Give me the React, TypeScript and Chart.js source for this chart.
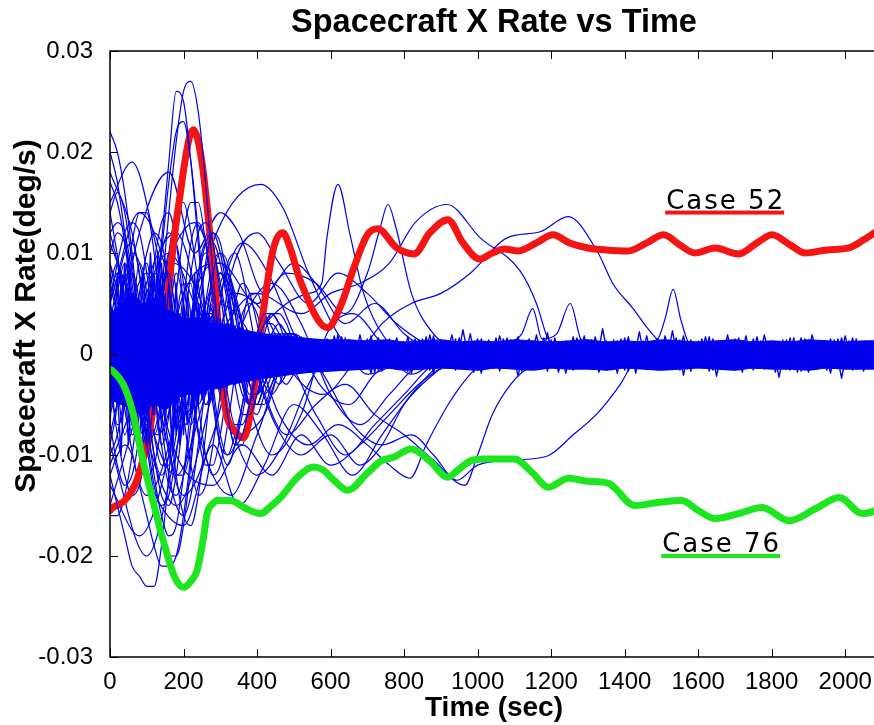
import { useEffect, useRef } from "react";
import { Chart, registerables } from "chart.js";

Chart.register(...registerables);

// ---------- text ----------
const TITLE = "Spacecraft X Rate vs Time";
const X_LABEL = "Time (sec)";
const Y_LABEL = "Spacecraft X Rate(deg/s)";

// ---------- axes ----------
const X_MIN = 0;
const X_MAX = 2100;
const X_TICKS = [0, 200, 400, 600, 800, 1000, 1200, 1400, 1600, 1800, 2000];
const X_TICK_LABELS = ["0", "200", "400", "600", "800", "1000", "1200", "1400", "1600", "1800", "2000"];
const Y_MIN = -0.03;
const Y_MAX = 0.03;
const Y_TICKS = [-0.03, -0.02, -0.01, 0, 0.01, 0.02, 0.03];
const Y_TICK_LABELS = ["-0.03", "-0.02", "-0.01", "0", "0.01", "0.02", "0.03"];

// all rate values below are in units of 0.001 deg/s
const MILLI = 0.001;

// ---------- highlighted cases: [time (s), rate (1e-3 deg/s)] ----------
const CASE_52: number[][] = [
  [0, -15.5], [8, -15.2], [40, -14.5], [73, -12.5], [109, -7.3], [145, 2], [183, 13.8], [227, 22.2],
  [250, 19], [273, 11.4], [292, 3.9], [308, -4], [346, -7.9], [363, -8.3], [390, -4], [418, 4.5],
  [445, 10.5], [470, 12], [490, 10.5], [518, 7.2], [592, 2.6], [630, 5], [663, 8.5], [700, 11.8],
  [728, 12.4], [780, 10.5], [827, 9.9], [870, 12], [919, 13.3], [960, 11], [1005, 9.4], [1040, 10],
  [1073, 10.4], [1110, 10.2], [1160, 11], [1205, 11.8], [1250, 11], [1300, 10.5], [1350, 10.3],
  [1410, 10.2], [1460, 11], [1506, 11.8], [1550, 10.8], [1591, 10], [1646, 10.5], [1710, 9.9],
  [1760, 11], [1801, 11.8], [1850, 10.8], [1891, 10], [1950, 10.3], [2010, 10.5], [2050, 11.3], [2100, 12.5],
];
const CASE_76: number[][] = [
  [0, -1.5], [8, -1.7], [36, -3], [60, -5.5], [90, -10.6], [120, -15], [145, -18.5], [175, -22],
  [200, -23.1], [220, -22.5], [237, -21.4], [255, -18], [264, -15.8], [280, -14.8], [292, -14.5],
  [327, -14.5], [370, -15.3], [409, -15.8], [440, -15], [464, -14.2], [510, -12.2], [554, -11.2],
  [580, -11.5], [609, -12.5], [646, -13.5], [700, -11.8], [737, -10.6], [773, -10.2], [819, -9.4],
  [870, -10.6], [919, -12.2], [946, -11.5], [980, -10.6], [1018, -10.4], [1100, -10.4], [1150, -11.8],
  [1192, -13.2], [1247, -12.3], [1300, -12.6], [1356, -12.8], [1427, -15], [1490, -14.7], [1555, -14.5],
  [1600, -15.5], [1646, -16.3], [1710, -15.8], [1774, -15.2], [1847, -16.5], [1920, -15.3], [1984, -14.2],
  [2046, -15.8], [2100, -15.3],
];

// ---------- labels for the highlighted cases (anchored in data units) ----------
const CASE_LABELS = [
  { text: "Case 52", t: 1513, v: 14.4, color: "#f51414" },
  { text: "Case 76", t: 1502, v: -19.6, color: "#1ee61e" },
];

// ---------- envelope of the densely overlapping cases (core of the bundle) ----------
const BAND_T = [0, 30, 60, 90, 120, 150, 180, 210, 240, 270, 300, 330, 360, 390, 420, 460, 500, 550, 600, 650, 700, 750, 800, 850, 900, 950, 1000, 1050, 1100, 1150, 1200, 1250, 1300, 1350, 1400, 1450, 1500, 1550, 1600, 1650, 1700, 1750, 1800, 1850, 1900, 1950, 2000, 2050, 2100];
const BAND_UPPER = [4, 5, 6, 5, 5.5, 4.5, 4, 3.5, 3.6, 3, 3, 2.6, 2.4, 2.2, 2, 1.8, 1.7, 1.5, 1.4, 1.4, 1.3, 1.4, 1.2, 1.3, 1.4, 1.2, 1.3, 1.2, 1.4, 1.3, 1.2, 1.3, 1.4, 1.2, 1.3, 1.2, 1.4, 1.3, 1.2, 1.3, 1.4, 1.2, 1.3, 1.2, 1.4, 1.3, 1.2, 1.3, 1.3];
const BAND_LOWER = [-4.5, -5, -5.5, -6, -5, -5.5, -4.5, -4, -4, -3.5, -3.4, -3, -2.8, -2.6, -2.4, -2.2, -2, -1.8, -1.7, -1.6, -1.5, -1.4, -1.6, -1.5, -1.4, -1.5, -1.6, -1.4, -1.5, -1.6, -1.4, -1.5, -1.5, -1.6, -1.4, -1.5, -1.6, -1.5, -1.4, -1.5, -1.6, -1.4, -1.5, -1.5, -1.6, -1.4, -1.5, -1.5, -1.5];

// ---------- other Monte-Carlo cases, early transient (t = 0..600 s, every 20 s) ----------
const T_EARLY = [0, 20, 40, 60, 80, 100, 120, 140, 160, 180, 200, 220, 240, 260, 280, 300, 320, 340, 360, 380, 400, 420, 440, 460, 480, 500, 520, 540, 560, 580, 600];
const EARLY_01 = [5, 2, -2, -6, -8, -6, -1, 6, 14, 21, 26, 27, 24, 17, 8, 0, -6, -9, -8, -5, -1, 2, 4, 4, 3, 1, 0, -1, -1, 0, 0];
const EARLY_02 = [12, 9, 4, -1, -4, -3, 3, 11, 19, 26, 25, 19, 11, 3, -4, -9, -11, -9, -5, -1, 2, 4, 4, 3, 1, 0, -1, -1, 0, 0, 0];
const EARLY_03 = [22, 20, 16, 10, 3, -4, -10, -14, -15, -12, -6, 1, 7, 11, 12, 10, 6, 1, -3, -5, -5, -3, -1, 1, 2, 2, 1, 0, 0, 0, 0];
const EARLY_04 = [20, 17, 12, 6, 1, 0, 4, 10, 17, 22, 23, 19, 12, 4, -3, -8, -10, -9, -6, -2, 1, 3, 4, 3, 2, 0, -1, -1, 0, 0, 0];
const EARLY_05 = [-12, -15, -18, -21, -22, -23, -23, -19, -12, -3, 5, 11, 13, 11, 6, 1, -4, -7, -7, -5, -2, 1, 2, 2, 1, 0, 0, -1, 0, 0, 0];
const EARLY_06 = [6, 8, 7, 3, -3, -9, -14, -18, -20, -20, -17, -11, -4, 3, 8, 10, 9, 5, 1, -3, -5, -5, -3, -1, 1, 2, 1, 0, 0, 0, 0];
const EARLY_07 = [14, 16, 14, 9, 2, -6, -12, -16, -18, -17, -12, -5, 3, 9, 12, 11, 7, 2, -2, -4, -4, -2, 0, 1, 2, 1, 0, 0, 0, 0, 0];
const EARLY_08 = [-5, 0, 6, 11, 14, 14, 10, 3, -5, -12, -16, -17, -14, -8, -1, 5, 9, 10, 8, 4, 0, -3, -4, -3, -1, 1, 1, 0, 0, 0, 0];
const EARLY_09 = [10, 12, 11, 7, 1, -5, -10, -12, -10, -5, 2, 8, 12, 13, 11, 6, 1, -3, -6, -6, -4, -1, 1, 2, 2, 1, 0, 0, 0, 0, 0];
const EARLY_10 = [-10, -8, -4, 1, 6, 10, 12, 11, 7, 1, -6, -11, -14, -13, -9, -4, 1, 5, 7, 6, 3, 0, -2, -3, -2, -1, 0, 1, 0, 0, 0];
const EARLY_11 = [3, 7, 10, 11, 8, 3, -3, -9, -13, -14, -12, -7, -1, 5, 9, 10, 8, 4, 0, -3, -4, -3, -1, 1, 1, 1, 0, 0, 0, 0, 0];
const EARLY_12 = [-16, -16, -14, -10, -4, 3, 9, 13, 14, 11, 5, -2, -8, -11, -11, -8, -3, 1, 4, 5, 4, 1, -1, -2, -2, -1, 0, 0, 0, 0, 0];
const EARLY_13 = [8, 4, -1, -6, -10, -12, -11, -7, -1, 6, 12, 15, 15, 11, 5, -1, -6, -9, -9, -6, -3, 0, 2, 3, 2, 1, 0, 0, 0, 0, 0];
const EARLY_14 = [-3, -8, -12, -14, -13, -9, -3, 4, 10, 14, 15, 12, 7, 1, -5, -9, -10, -8, -5, -1, 2, 3, 3, 2, 0, -1, -1, 0, 0, 0, 0];
const EARLY_15 = [17, 15, 11, 5, -2, -8, -13, -15, -14, -10, -4, 2, 8, 11, 11, 9, 5, 1, -3, -5, -5, -3, -1, 1, 2, 1, 0, 0, 0, 0, 0];
const EARLY_16 = [-12, -10, -9, -10, -13, -16, -19, -21, -21, -20, -16, -10, -3, 3, 7, 8, 6, 2, -2, -5, -6, -4, -2, 0, 2, 2, 1, 0, 0, 0, 0];
const EARLY_17 = [0, 4, 8, 10, 9, 5, -1, -7, -12, -15, -16, -14, -9, -3, 3, 7, 8, 6, 3, -1, -3, -4, -3, -1, 0, 1, 1, 0, 0, 0, 0];
const EARLY_18 = [5, 9, 12, 13, 12, 8, 2, -4, -9, -12, -12, -9, -4, 2, 6, 8, 7, 4, 0, -3, -4, -3, -1, 1, 1, 1, 0, 0, 0, 0, 0];
const EARLY_19 = [-7, -11, -13, -12, -8, -2, 5, 10, 12, 11, 7, 1, -5, -10, -12, -11, -7, -2, 3, 6, 6, 4, 1, -2, -3, -2, -1, 0, 0, 0, 0];
const EARLY_20 = [12, 13, 12, 8, 3, -3, -8, -11, -11, -8, -3, 3, 8, 10, 10, 7, 3, -1, -4, -5, -4, -2, 0, 1, 1, 1, 0, 0, 0, 0, 0];
const EARLY_21 = [4, -3, -8, -4, 5, 9, 3, -6, -9, -2, 6, 7, 0, -5, -4, 1, 3, 1, -1, -2, -1, 0, 1, 0, 0, 0, 0, 0, 0, 0, 0];
const EARLY_22 = [-6, 2, 8, 5, -4, -9, -4, 5, 8, 3, -5, -6, -1, 4, 4, 0, -2, -2, 0, 1, 1, 0, 0, 0, 0, 0, 0, 0, 0, 0, 0];
const EARLY_23 = [9, 6, -2, -8, -6, 2, 8, 6, -2, -7, -5, 2, 5, 3, -1, -3, -2, 0, 2, 1, 0, -1, 0, 0, 0, 0, 0, 0, 0, 0, 0];
const EARLY_24 = [-2, -7, -5, 3, 9, 6, -3, -9, -6, 3, 7, 4, -2, -5, -3, 1, 3, 2, -1, -2, -1, 0, 1, 0, 0, 0, 0, 0, 0, 0, 0];
const EARLY_25 = [1, 6, 9, 4, -5, -10, -6, 4, 10, 6, -3, -7, -4, 2, 5, 3, -1, -3, -2, 0, 1, 1, 0, 0, 0, 0, 0, 0, 0, 0, 0];
const EARLY_26 = [-9, -5, 3, 8, 5, -3, -8, -5, 3, 8, 5, -2, -5, -3, 1, 3, 2, -1, -2, -1, 0, 1, 0, 0, 0, 0, 0, 0, 0, 0, 0];
const EARLY_27 = [7, 9, 4, -4, -9, -6, 2, 8, 7, -1, -7, -6, 0, 5, 4, 0, -3, -2, 0, 1, 1, 0, 0, 0, 0, 0, 0, 0, 0, 0, 0];
const EARLY_28 = [-4, 3, 7, 3, -5, -7, -1, 6, 7, 1, -5, -5, 0, 4, 3, -1, -3, -1, 1, 1, 0, 0, 0, 0, 0, 0, 0, 0, 0, 0, 0];

// ---------- other cases with slower, longer-lasting oscillation: [time, rate] ----------
const BLUE_LONG_1: number[][] = [[0, 9], [60, -2], [130, -8], [200, 0], [290, 12], [410, 16.8], [470, 14.5], [540, 8], [620, 2], [700, -1], [780, 1], [850, 0], [950, 0]];
const BLUE_LONG_2: number[][] = [[0, -6], [80, 4], [160, 10], [240, 4], [320, -3], [400, 2], [480, 5], [540, 6], [576, 7], [590, 11.5], [620, 16.8], [653, 11.8], [690, 6], [760, 1], [840, -1], [920, 0]];
const BLUE_LONG_3: number[][] = [[0, 4], [100, -9], [200, 6], [300, 9], [400, 5], [480, 8], [560, 7], [640, 4], [700, 8], [735, 12.5], [756, 14.8], [778, 12.5], [820, 6], [880, 2], [960, 0]];
const BLUE_LONG_4: number[][] = [[0, -4], [100, 8], [200, -6], [300, 2], [400, 6], [520, 4], [600, 6], [680, 7], [760, 9], [830, 13], [917, 14.8], [1007, 11.5], [1116, 8.2], [1161, 4.9], [1190, 1.6], [1230, 0]];
const BLUE_LONG_5: number[][] = [[0, 14], [90, -4], [180, -12], [260, -4], [340, 6], [420, 4], [500, -2], [580, -4], [660, -1], [740, 3], [820, 5], [900, 6], [980, 8], [1080, 11.5], [1170, 12.1], [1246, 13.6], [1325, 10.2], [1369, 6.9], [1423, 4.5], [1461, 2.6], [1500, 1], [1540, 0]];
const BLUE_SPIKE_1: number[][] = [[1400, 0], [1450, 1], [1490, 1.5], [1510, 3.5], [1532, 6.4], [1552, 3.5], [1575, 1], [1620, 0]];
const BLUE_SPIKE_2: number[][] = [[1000, 0], [1080, 1], [1120, 2], [1150, 4.5], [1175, 1.5], [1215, 2], [1252, 5], [1280, 1.5], [1330, 0]];
const BLUE_NEG_1: number[][] = [[0, -8], [90, 6], [180, 12], [260, 2], [340, -8], [420, -6], [500, 2], [580, -2], [660, -7], [740, -9], [820, -8], [880, -10], [944, -12.5], [1000, -11], [1100, -10.5], [1190, -10.1], [1260, -8], [1325, -5.9], [1388, -3], [1430, -0.5], [1470, 0]];
const BLUE_NEG_2: number[][] = [[0, 3], [100, -14], [200, -4], [300, 8], [400, -2], [480, -8], [560, -5], [640, -3], [720, -6], [800, -8], [880, -10.5], [965, -13], [1000, -10], [1040, -6], [1090, -3], [1150, -1], [1210, 0]];
const BLUE_NEG_3: number[][] = [[0, -9], [100, -20], [190, -8], [290, 5], [380, 2], [460, -6], [540, -9], [620, -7], [700, -9], [760, -11], [816, -12.3], [860, -9], [920, -5], [980, -2], [1040, 0]];
const BLUE_NEG_4: number[][] = [[0, 11], [100, 1], [180, -10], [280, -13], [360, -9], [440, -12], [520, -8], [600, -11], [680, -9], [760, -6], [840, -3], [920, -1], [1000, 0]];
const BLUE_MID_1: number[][] = [[0, -2], [80, 12], [160, 18], [230, 10], [300, 14], [350, 12], [420, 6], [500, 9], [560, 7], [640, 3], [720, 5], [800, 2], [880, 0]];
const BLUE_MID_2: number[][] = [[0, 7], [90, -7], [180, -15], [270, -5], [330, 8], [400, 12], [460, 9], [540, 5], [620, 8], [700, 6], [780, 3], [860, 1], [940, 0]];
const BLUE_MID_3: number[][] = [[0, -13], [80, -18], [160, -10], [240, 7], [300, 9], [380, 0], [450, -7], [520, -10], [600, -8], [680, -11], [740, -9], [800, -5], [880, -2], [960, 0]];
const BLUE_MID_4: number[][] = [[0, 15], [60, 19], [130, 10], [210, -2], [280, 4], [360, 11], [430, 8], [500, 2], [570, -3], [650, -5], [720, -2], [800, 0]];
const BLUE_MID_5: number[][] = [[0, -15], [70, -6], [150, 8], [230, 13], [300, 6], [370, -4], [440, -10], [520, -6], [590, 2], [660, 4], [740, 1], [820, -2], [900, 0]];
const BLUE_MID_6: number[][] = [[0, 5], [80, 14], [170, 6], [250, -9], [330, -14], [400, -8], [480, -1], [560, -6], [640, -10], [720, -7], [800, -4], [880, -1], [960, 0]];
const BLUE_MID_7: number[][] = [[0, -11], [90, -2], [170, 9], [250, 5], [320, -6], [400, -12], [470, -9], [540, -3], [620, 1], [700, -2], [780, -1], [860, 0]];
const BLUE_MID_8: number[][] = [[0, 18], [60, 12], [130, -4], [200, -14], [280, -8], [360, 3], [440, 7], [520, 3], [600, -4], [680, -7], [760, -4], [840, -1], [920, 0]];
const BLUE_MID_9: number[][] = [[0, 2], [100, -12], [200, -17], [280, -9], [350, -15], [420, -11], [500, -5], [580, -8], [660, -12], [740, -8], [820, -4], [900, -1], [980, 0]];

// ---------- residual jitter of the settled cases ----------
const NOISE_T_A = [0, 20, 40, 60, 80, 100, 120, 140, 160, 180, 200, 220, 240, 260, 280, 300, 320, 340, 360, 380, 400, 420, 440, 460, 480, 500, 520, 540, 560, 580, 600, 620, 640, 660, 680, 700, 720, 740, 760, 780, 800, 820, 840, 860, 880, 900, 920, 940, 960, 980, 1000, 1020, 1040, 1060, 1080, 1100, 1120, 1140, 1160, 1180, 1200, 1220, 1240, 1260, 1280, 1300, 1320, 1340, 1360, 1380, 1400, 1420, 1440, 1460, 1480, 1500, 1520, 1540, 1560, 1580, 1600, 1620, 1640, 1660, 1680, 1700, 1720, 1740, 1760, 1780, 1800, 1820, 1840, 1860, 1880, 1900, 1920, 1940, 1960, 1980, 2000, 2020, 2040, 2060, 2080, 2100];
const NOISE_T_B = [10, 30, 50, 70, 90, 110, 130, 150, 170, 190, 210, 230, 250, 270, 290, 310, 330, 350, 370, 390, 410, 430, 450, 470, 490, 510, 530, 550, 570, 590, 610, 630, 650, 670, 690, 710, 730, 750, 770, 790, 810, 830, 850, 870, 890, 910, 930, 950, 970, 990, 1010, 1030, 1050, 1070, 1090, 1110, 1130, 1150, 1170, 1190, 1210, 1230, 1250, 1270, 1290, 1310, 1330, 1350, 1370, 1390, 1410, 1430, 1450, 1470, 1490, 1510, 1530, 1550, 1570, 1590, 1610, 1630, 1650, 1670, 1690, 1710, 1730, 1750, 1770, 1790, 1810, 1830, 1850, 1870, 1890, 1910, 1930, 1950, 1970, 1990, 2010, 2030, 2050, 2070, 2090];
const NOISE_1 = [
  6, -5, 9, -7, 4, -9, 8, -3, 7, -8,
  5, -6, 5, -4, 4.5, -3.5, 3, -3, 2.5, -2.5,
  2, -2.2, 1.8, -1.6, 1.4, -1.2, 1.7, -1.5, 1.1, -1.8,
  1.3, -1.0, 1.6, -1.4, 1.9, -1.2, 1.0, -1.7, 1.5, -1.3,
  1.2, -1.9, 1.4, -1.1, 1.8, -1.5, 1.3, -1.6, 2.4, -1.2,
  1.5, -1.4, 1.1, -1.7, 1.6, -1.3, 1.2, -1.5, 1.9, -1.1,
  1.4, -1.8, 1.3, -1.6, 1.5, -1.2, 1.7, -1.4, 1.0, -1.9,
  1.6, -1.3, 2.2, -1.5, 1.2, -1.6, 1.4, -1.1, 1.8, -1.7,
  1.3, -1.2, 1.5, -1.4, 1.9, -1.6, 1.1, -1.3, 1.7, -1.5,
  1.2, -2.3, 1.4, -1.2, 1.6, -1.8, 1.3, -1.1, 1.5, -1.4,
  1.8, -1.6, 1.2, -1.3, 1.5, -1.4,
];
const NOISE_2 = [
  -7, 8, -4, 6, -9, 5, -6, 9, -5, 7,
  -8, 4, -5, 4, -4, 3.5, -3, 2.8, -2.4, 2.2,
  -2, 1.9, -1.7, 1.3, -1.5, 1.8, -1.1, 1.4, -1.7, 1.2,
  -1.3, 1.9, -1.6, 1.1, -1.4, 1.5, -1.8, 1.2, -1.0, 1.6,
  -1.5, 1.3, -1.2, 1.7, -1.9, 1.4, -1.1, 1.5, -1.3, 2.0,
  -1.6, 1.2, -1.4, 1.8, -1.1, 1.3, -1.7, 1.5, -1.2, 1.6,
  -1.4, 1.1, -1.9, 1.7, -1.3, 1.4, -1.5, 2.5, -1.2, 1.3,
  -1.6, 1.1, -1.4, 1.8, -1.5, 1.2, -1.3, 1.6, -2.1, 1.4,
  -1.1, 1.7, -1.6, 1.3, -1.2, 1.5, -1.8, 1.2, -1.4, 1.9,
  -1.3, 1.1, -1.5, 1.6, -1.7, 1.4, -1.2, 1.3, -1.9, 1.5,
  -1.1, 1.6, -1.4, 1.2, -1.5, 1.3,
];
const NOISE_3 = [
  3, -10, 6, -6, 8, -4, 10, -7, 3, -9,
  6, -5, 4, -5, 3.5, -3, 3.2, -2.6, 2.4, -2.1,
  1.9, -1.8, 1.6, -1.4, 1.2, -1.7, 1.5, -1.1, 1.3, -1.6,
  1.8, -1.2, 1.4, -1.5, 1.1, -1.9, 1.6, -1.3, 1.2, -1.4,
  1.7, -1.0, 1.5, -1.6, 1.3, -1.2, 1.9, -1.4, 1.1, -1.8,
  1.5, -1.3, 1.6, -1.2, 1.4, -2.2, 1.3, -1.5, 1.1, -1.7,
  1.6, -1.4, 1.2, -1.3, 1.8, -1.5, 1.1, -1.6, 1.4, -1.2,
  1.7, -1.9, 1.3, -1.1, 1.5, -1.4, 2.3, -1.6, 1.2, -1.3,
  1.5, -1.7, 1.1, -1.5, 1.4, -1.2, 1.8, -1.6, 1.3, -1.4,
  1.2, -1.1, 1.6, -1.8, 1.5, -1.3, 1.1, -1.6, 1.4, -2.4,
  1.3, -1.5, 1.2, -1.4, 1.6,
];
const NOISE_4 = [
  -4, 7, -9, 3, -6, 10, -3, 6, -10, 4,
  -7, 8, -4.5, 3.8, -3.2, 3, -2.7, 2.3, -2.2, 2,
  -1.8, 1.7, -1.5, 1.1, -1.3, 1.6, -1.8, 1.2, -1.4, 1.5,
  -1.1, 1.7, -1.5, 1.3, -1.2, 1.8, -1.6, 1.4, -1.3, 1.1,
  -1.7, 1.5, -1.2, 1.9, -1.4, 1.3, -1.1, 1.6, -1.5, 1.2,
  -1.9, 1.4, -1.3, 1.5, -1.2, 1.7, -1.6, 1.1, -1.4, 2.1,
  -1.3, 1.2, -1.5, 1.6, -1.1, 1.4, -1.8, 1.3, -1.2, 1.5,
  -1.7, 1.2, -1.4, 1.1, -1.6, 1.8, -1.3, 1.4, -1.5, 1.2,
  -1.1, 1.7, -2.2, 1.3, -1.4, 1.6, -1.2, 1.5, -1.3, 1.1,
  -1.8, 1.4, -1.6, 1.2, -1.5, 1.9, -1.1, 1.3, -1.4, 1.6,
  -1.2, 1.5, -1.7, 1.3, -1.5,
];

// ---------- colours ----------
const BLUE = "#0000ee";
const RED = "#f51414";
const GREEN = "#1ee61e";

const FONT_TICK = '"Liberation Sans", Arial, Helvetica, sans-serif';
const FONT_BOLD = '"Liberation Sans", Arial, Helvetica, sans-serif';
const FONT_CASE = '"DejaVu Sans", Verdana, sans-serif';

const fromPairs = (p: number[][]) => p.map(([t, v]) => ({ x: t, y: v * MILLI }));
const fromGrid = (times: number[], vals: number[]) =>
  vals.slice(0, times.length).map((v, i) => ({ x: times[i], y: v * MILLI }));

const blueSmooth = (data: { x: number; y: number }[]) => ({
  data,
  borderColor: BLUE,
  borderWidth: 1.2,
  pointRadius: 0,
  cubicInterpolationMode: "monotone" as const,
});
const blueJag = (data: { x: number; y: number }[]) => ({
  data,
  borderColor: BLUE,
  borderWidth: 1.4,
  pointRadius: 0,
  tension: 0,
});

const TICK_LEN = 8;

const decorPlugin = {
  id: "decor",
  afterDatasetsDraw(chart: any) {
    const { ctx, chartArea: a, scales } = chart;
    const x = scales.x;
    const y = scales.y;
    ctx.save();
    ctx.strokeStyle = "#000";
    ctx.lineWidth = 1;
    ctx.beginPath();
    X_TICKS.forEach((v) => {
      const p = Math.round(x.getPixelForValue(v)) + 0.5;
      ctx.moveTo(p, a.bottom);
      ctx.lineTo(p, a.bottom - TICK_LEN);
      ctx.moveTo(p, a.top);
      ctx.lineTo(p, a.top + TICK_LEN);
    });
    Y_TICKS.forEach((v) => {
      const p = Math.round(y.getPixelForValue(v)) + 0.5;
      ctx.moveTo(a.left, p);
      ctx.lineTo(a.left + TICK_LEN, p);
      ctx.moveTo(a.right, p);
      ctx.lineTo(a.right - TICK_LEN, p);
    });
    ctx.stroke();
    ctx.lineWidth = 1.5;
    ctx.strokeRect(a.left, a.top, a.right - a.left, a.bottom - a.top);

    // case labels
    ctx.font = `26px ${FONT_CASE}`;
    ctx.textAlign = "left";
    ctx.textBaseline = "alphabetic";
    CASE_LABELS.forEach((c) => {
      const px = x.getPixelForValue(c.t);
      const py = y.getPixelForValue(c.v * MILLI);
      ctx.fillStyle = "#000";
      (ctx as any).letterSpacing = "2px";
      ctx.fillText(c.text, px, py);
      const w = ctx.measureText(c.text).width;
      (ctx as any).letterSpacing = "0px";
      ctx.fillStyle = c.color;
      ctx.fillRect(px - 1, py + 2, w, 4);
    });
    ctx.restore();
  },
  afterDraw(chart: any) {
    const { ctx } = chart;
    ctx.save();
    ctx.fillStyle = "#000";
    ctx.textAlign = "center";
    ctx.textBaseline = "alphabetic";
    ctx.font = `bold 32.5px ${FONT_BOLD}`;
    ctx.fillText(TITLE, 494, 32);
    ctx.font = `bold 28px ${FONT_BOLD}`;
    ctx.fillText(X_LABEL, 494, 716);
    ctx.font = `bold 30px ${FONT_BOLD}`;
    ctx.translate(35, 316);
    ctx.rotate(-Math.PI / 2);
    ctx.fillText(Y_LABEL, 0, 0);
    ctx.restore();
  },
};

export default function App() {
  const ref = useRef<HTMLCanvasElement>(null);

  useEffect(() => {
    if (!ref.current) return;
    const early = [
      EARLY_01, EARLY_02, EARLY_03, EARLY_04, EARLY_05, EARLY_06, EARLY_07, EARLY_08, EARLY_09, EARLY_10,
      EARLY_21, EARLY_22, EARLY_23, EARLY_24,
    ].map((s) => blueSmooth(fromGrid(T_EARLY, s)));
    const early2 = [
      EARLY_11, EARLY_12, EARLY_13, EARLY_14, EARLY_15, EARLY_16, EARLY_17, EARLY_18, EARLY_19, EARLY_20,
      EARLY_25, EARLY_26, EARLY_27, EARLY_28,
    ].map((s) => blueSmooth(fromGrid(T_EARLY, s)));
    const longs = [
      BLUE_LONG_1, BLUE_LONG_2, BLUE_LONG_3, BLUE_LONG_4, BLUE_LONG_5, BLUE_SPIKE_1, BLUE_SPIKE_2,
      BLUE_NEG_1, BLUE_NEG_2, BLUE_NEG_3, BLUE_NEG_4, BLUE_MID_1, BLUE_MID_2, BLUE_MID_3, BLUE_MID_4,
      BLUE_MID_5, BLUE_MID_6, BLUE_MID_7, BLUE_MID_8, BLUE_MID_9,
    ].map((s) => blueSmooth(fromPairs(s)));
    const noise = [
      blueJag(fromGrid(NOISE_T_A, NOISE_1)),
      blueJag(fromGrid(NOISE_T_A, NOISE_2)),
      blueJag(fromGrid(NOISE_T_B, NOISE_3)),
      blueJag(fromGrid(NOISE_T_B, NOISE_4)),
    ];
    const bandUpper = {
      data: fromGrid(BAND_T, BAND_UPPER),
      borderColor: BLUE,
      borderWidth: 1,
      pointRadius: 0,
      fill: "+1",
      backgroundColor: BLUE,
      cubicInterpolationMode: "monotone" as const,
    };
    const bandLower = {
      data: fromGrid(BAND_T, BAND_LOWER),
      borderColor: BLUE,
      borderWidth: 1,
      pointRadius: 0,
      fill: false,
      cubicInterpolationMode: "monotone" as const,
    };
    const green = {
      data: fromPairs(CASE_76),
      borderColor: GREEN,
      borderWidth: 7,
      pointRadius: 0,
      cubicInterpolationMode: "monotone" as const,
    };
    const red = {
      data: fromPairs(CASE_52),
      borderColor: RED,
      borderWidth: 7,
      pointRadius: 0,
      cubicInterpolationMode: "monotone" as const,
    };

    // first dataset is drawn on top
    const datasets: any[] = [green, ...noise, ...early, bandUpper, bandLower, red, ...early2, ...longs];

    const chart = new Chart(ref.current, {
      type: "line",
      data: { datasets },
      plugins: [decorPlugin],
      options: {
        responsive: false,
        animation: false,
        devicePixelRatio: 1,
        events: [],
        parsing: false as any,
        normalized: true,
        layout: { padding: { top: 51, right: 18, left: 0, bottom: 0 } },
        elements: {
          point: { radius: 0 },
          line: { borderJoinStyle: "round", borderCapStyle: "round" },
        },
        plugins: {
          legend: { display: false },
          title: { display: false },
          tooltip: { enabled: false },
          filler: { propagate: false },
        } as any,
        scales: {
          x: {
            type: "linear",
            min: X_MIN,
            max: X_MAX,
            grid: { display: false },
            border: { display: false },
            afterBuildTicks: (s: any) => {
              s.ticks = X_TICKS.map((v) => ({ value: v }));
            },
            afterFit: (s: any) => {
              s.height = 68;
            },
            ticks: {
              autoSkip: false,
              maxRotation: 0,
              padding: 3,
              color: "#000",
              font: { family: FONT_TICK, size: 24 },
              callback: (_v: any, i: number) => X_TICK_LABELS[i],
            },
          },
          y: {
            type: "linear",
            min: Y_MIN,
            max: Y_MAX,
            grid: { display: false },
            border: { display: false },
            afterBuildTicks: (s: any) => {
              s.ticks = Y_TICKS.map((v) => ({ value: v }));
            },
            afterFit: (s: any) => {
              s.width = 110;
            },
            ticks: {
              autoSkip: false,
              padding: 9,
              color: "#000",
              font: { family: FONT_TICK, size: 24 },
              callback: (_v: any, i: number) => Y_TICK_LABELS[i],
            },
          },
        },
      },
    });
    return () => chart.destroy();
  }, []);

  return (
    <div
      style={{
        position: "absolute",
        left: 0,
        top: 0,
        width: 874,
        height: 725,
        overflow: "hidden",
        background: "#fff",
      }}
    >
      <canvas ref={ref} width={900} height={725} style={{ display: "block", width: 900, height: 725 }} />
    </div>
  );
}
